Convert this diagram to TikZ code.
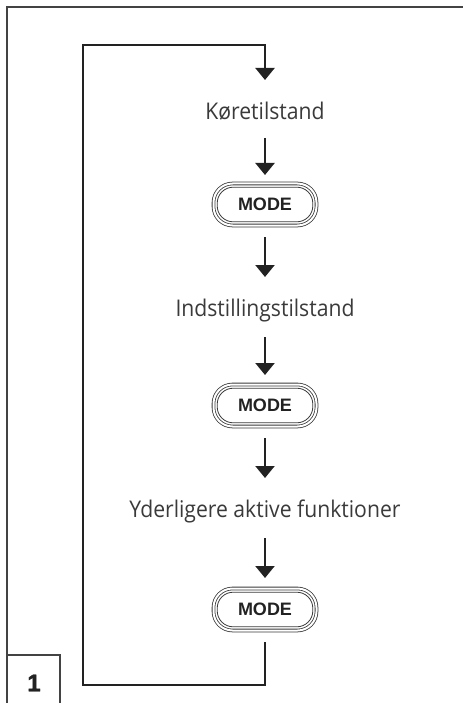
\documentclass[tikz,border=0pt]{standalone}
\usepackage{fontspec}
\setmainfont{Open Sans}[FakeStretch=0.92]
\newfontfamily\modefont{Liberation Sans}
\newfontfamily\numfont{Liberation Sans}[BoldFeatures={FakeBold=1.6}]
\usetikzlibrary{arrows.meta}
\definecolor{ink}{HTML}{222222}
\definecolor{txt}{HTML}{3A3A3A}
\definecolor{btnline}{HTML}{3A3A3A}
\tikzset{
  flow/.style={draw=ink, line width=2.2pt},
  arr/.style={flow, -{Triangle[width=19pt,length=12pt]}},
  statetext/.style={anchor=base, inner sep=0pt, font=\fontsize{23}{28}\selectfont, text=txt},
  modebtn/.style={draw=btnline, double, double distance=2pt, line width=0.8pt,
    rounded corners=19pt, minimum width=103pt, minimum height=42pt,
    outer sep=0pt, inner sep=0pt,
    font=\modefont\bfseries\fontsize{18}{21}\selectfont, text=ink},
  btninner/.style={draw=btnline, line width=0.8pt, rounded corners=16pt},
  frameline/.style={draw=ink!85, line width=1.1pt},
  numtext/.style={inner sep=0pt, font=\numfont\bfseries\fontsize{24}{28}\selectfont, text=ink},
}
\begin{document}
\begin{tikzpicture}[x=1pt,y=-1pt]
\useasboundingbox (0,0) rectangle (463,703);
% page frame and tab
\draw[frameline] (7,703) -- (7,7) -- (463,7);
\draw[frameline] (7,655) -- (60,655) -- (60,703);
\node[numtext] (num) at (34,683) {1};
% states and buttons
\node[statetext] (t1) at (265,120) {Køretilstand};
\node[modebtn] (b1) at (265,204.5) {MODE};
\node[statetext] (t2) at (265,316) {Indstillingstilstand};
\node[modebtn] (b2) at (265,405.5) {MODE};
\node[statetext] (t3) at (265,517) {Yderligere aktive funktioner};
\node[modebtn] (b3) at (265,609.5) {MODE};
\foreach \b in {b1,b2,b3}
  \draw[btninner] ([shift={(3.7pt,-3.7pt)}]\b.north west) rectangle ([shift={(-3.7pt,3.7pt)}]\b.south east);
% loop corners
\coordinate (tr) at (265,45);
\coordinate (tl) at (83,45);
\coordinate (bl) at (83,685);
\coordinate (br) at (265,685);
% connectors
\draw[arr] ([yshift=-18pt]t1.base) -- ([yshift=29.5pt]b1.center);
\draw[arr] ([yshift=-32.5pt]b1.center) -- ([yshift=39pt]t2.base);
\draw[arr] ([yshift=-21pt]t2.base) -- ([yshift=30.5pt]b2.center);
\draw[arr] ([yshift=-32.5pt]b2.center) -- ([yshift=39pt]t3.base);
\draw[arr] ([yshift=-21pt]t3.base) -- ([yshift=31.5pt]b3.center);
\draw[arr] ([yshift=-32.5pt]b3.center) -- (br) -- (bl) -- (tl) -- (tr) -- ([yshift=40pt]t1.base);
\end{tikzpicture}
\end{document}
